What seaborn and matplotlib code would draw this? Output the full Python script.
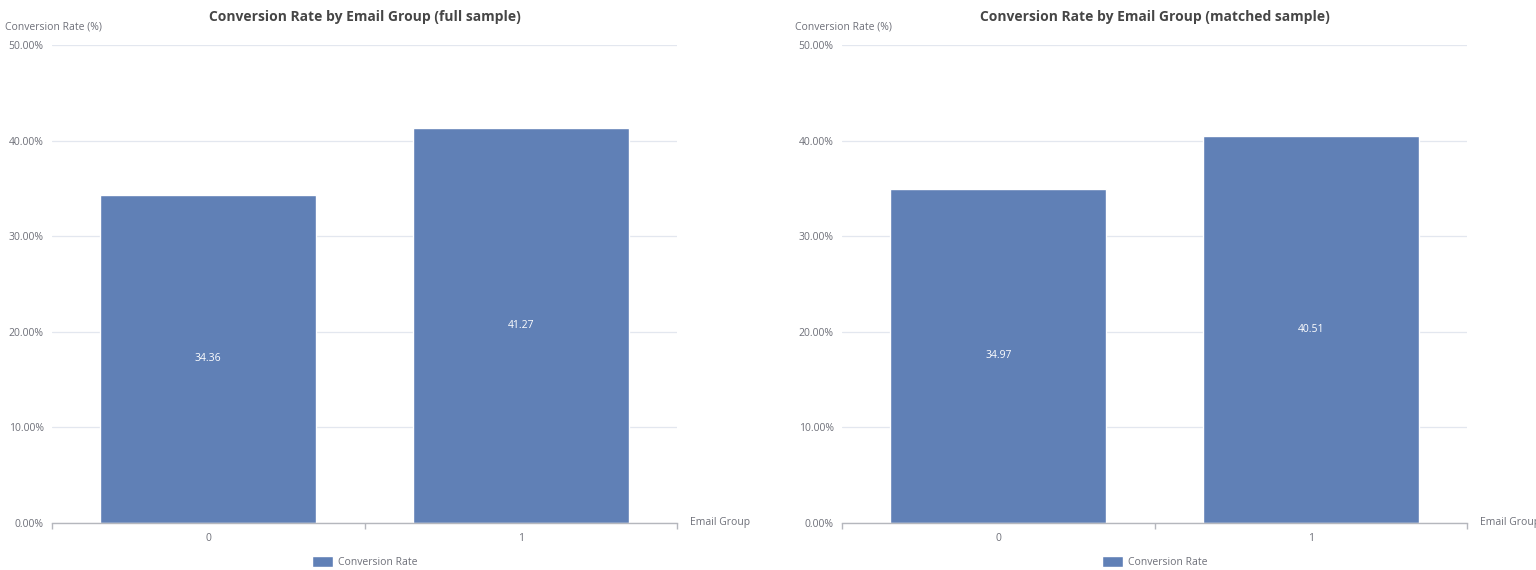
import matplotlib
matplotlib.use("Agg")
import matplotlib.pyplot as plt
import matplotlib.ticker as mticker
import seaborn as sns
import pandas as pd

# data
groups = ["0", "1"]
full_rates = [34.36, 41.27]
matched_rates = [34.97, 40.51]
titles = ["Conversion Rate by Email Group (full sample)",
          "Conversion Rate by Email Group (matched sample)"]

bar_color = "#6080b6"
grid_color = "#e3e7ef"
axis_color = "#b5b7bd"
text_color = "#6e7079"

sns.set_theme(style="white")
plt.rcParams["font.family"] = ["Open Sans", "DejaVu Sans"]

fig = plt.figure(figsize=(15.36, 5.70), dpi=100)

lefts = [52 / 1536, 842 / 1536]
for left, rates, title in zip(lefts, [full_rates, matched_rates], titles):
    ax = fig.add_axes([left, 47 / 570, 625 / 1536, 478 / 570])
    df = pd.DataFrame({"Email Group": groups, "Conversion Rate": rates})
    sns.barplot(data=df, x="Email Group", y="Conversion Rate", color=bar_color,
                width=0.69, saturation=1, ax=ax, label="Conversion Rate")
    ax.set_xlim(-0.5, 1.5)
    ax.set_ylim(0, 50)
    ax.set_yticks([0, 10, 20, 30, 40, 50])
    ax.yaxis.set_major_formatter(mticker.FuncFormatter(lambda v, p: f"{v:.2f}%"))
    ax.grid(axis="y", color=grid_color, linewidth=0.9)
    ax.set_axisbelow(True)
    for s in ["top", "right", "left"]:
        ax.spines[s].set_visible(False)
    ax.spines["bottom"].set_color(axis_color)
    ax.spines["bottom"].set_linewidth(1.0)
    ax.tick_params(axis="y", length=0, labelsize=7.5, labelcolor=text_color, pad=6)
    ax.tick_params(axis="x", which="major", length=0, labelsize=7.5,
                   labelcolor=text_color, pad=7)
    ax.set_xticks([-0.5, 0.5, 1.5], minor=True)
    ax.tick_params(axis="x", which="minor", bottom=True, length=4,
                   color=axis_color, width=1, direction="out")
    ax.set_xlabel("")
    ax.set_ylabel("")

    for i, v in enumerate(rates):
        ax.text(i, v / 2, f"{v:.2f}", ha="center", va="center", color="white",
                fontsize=7.5)

    ax.set_title(title, fontsize=10, fontweight="bold", color="#464646", pad=17.5)
    ax.text(-0.075, 1.037, "Conversion Rate (%)", transform=ax.transAxes,
            ha="left", va="center", fontsize=7.5, color=text_color)
    ax.text(1.02, 0.0, "Email Group", transform=ax.transAxes,
            ha="left", va="center", fontsize=7.5, color=text_color)

    leg = ax.legend(loc="center", bbox_to_anchor=(0.5, -0.082), frameon=False,
                    fontsize=7.5, handlelength=2.0, handleheight=1.3,
                    handletextpad=0.5)
    for t in leg.get_texts():
        t.set_color(text_color)

fig.savefig("out.png", dpi=100)
